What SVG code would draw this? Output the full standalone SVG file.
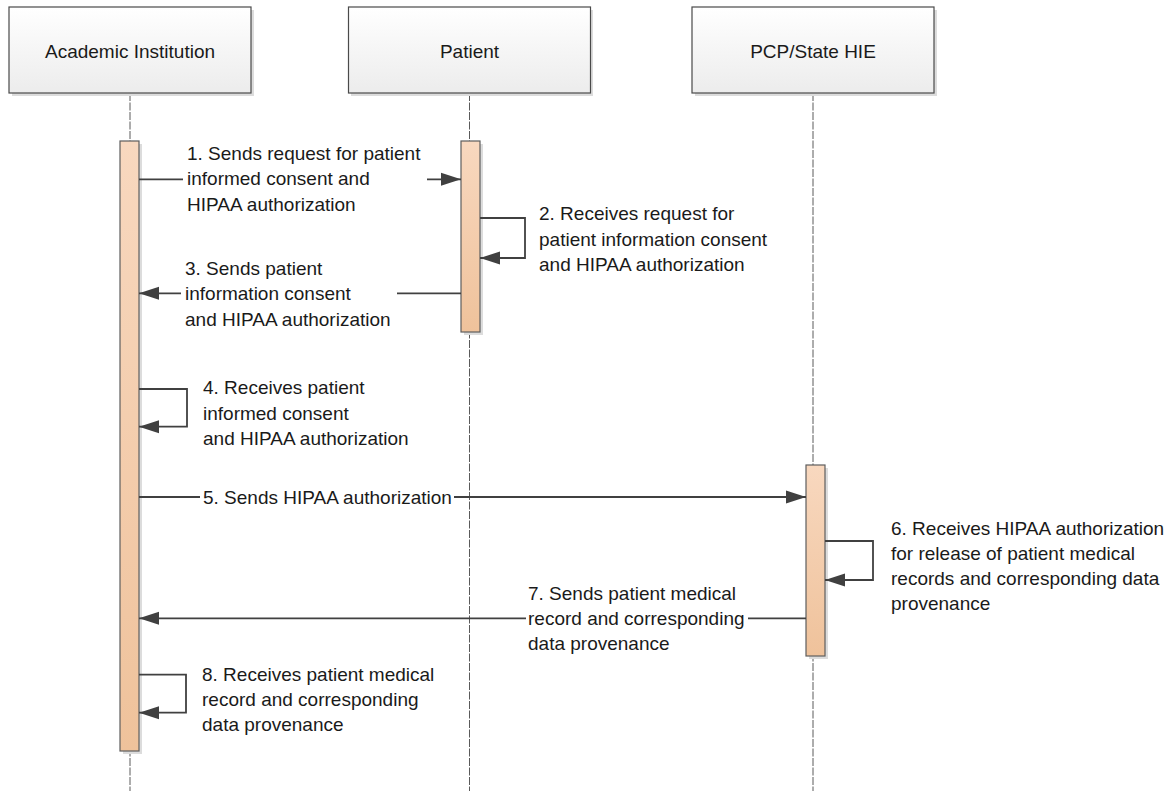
<svg xmlns="http://www.w3.org/2000/svg" width="1172" height="791" viewBox="0 0 1172 791">
<style>
text{font-family:"Liberation Sans",Arial,sans-serif;font-size:19px;fill:#1a1a1a}
.hdr{fill:url(#hdrGrad);stroke:#4a4a4a;stroke-width:1.2}
.shadow{fill:#dcdcdc}
.life{stroke:#5a5a5a;stroke-width:1;stroke-dasharray:8 1.5;fill:none}
.bar{fill:url(#barGrad);stroke:#5e5e5e;stroke-width:1.2}
.msg{stroke:#404040;stroke-width:1.8;fill:none;marker-end:url(#arrow)}
.lblbg{fill:#ffffff}
.c{text-anchor:middle}
</style>
<defs>
<linearGradient id="hdrGrad" x1="0" y1="0" x2="0" y2="1">
<stop offset="0" stop-color="#ffffff"/>
<stop offset="1" stop-color="#ececec"/>
</linearGradient>
<linearGradient id="barGrad" x1="0" y1="0" x2="0" y2="1">
<stop offset="0" stop-color="#f8d8bf"/>
<stop offset="1" stop-color="#efc29b"/>
</linearGradient>
<marker id="arrow" markerUnits="userSpaceOnUse" markerWidth="20" markerHeight="14" refX="20" refY="7" orient="auto">
<path d="M0,0.5 L20,7 L0,13.5 z" fill="#404040"/>
</marker>
</defs>

<g id="lifelines">
<line class="life" x1="130" y1="93" x2="130" y2="791"/>
<line class="life" x1="469.5" y1="93" x2="469.5" y2="791"/>
<line class="life" x1="813" y1="93" x2="813" y2="791"/>
</g>

<g id="academic">
<rect class="shadow" x="12" y="10" width="242" height="86"/>
<rect class="hdr" x="9" y="7" width="242" height="86"/>
<text class="c" x="130" y="57.5">Academic Institution</text>
</g>
<g id="patient">
<rect class="shadow" x="351" y="10" width="242" height="86"/>
<rect class="hdr" x="348.5" y="7" width="242" height="86"/>
<text class="c" x="469.5" y="57.5">Patient</text>
</g>
<g id="pcp">
<rect class="shadow" x="695" y="10" width="242" height="86"/>
<rect class="hdr" x="692" y="7" width="242" height="86"/>
<text class="c" x="813" y="57.5">PCP/State HIE</text>
</g>

<g id="academic-activation">
<rect class="shadow" x="123" y="144" width="19" height="610"/>
<rect class="bar" x="120" y="141" width="19" height="610"/>
</g>
<g id="patient-activation">
<rect class="shadow" x="464" y="144" width="19" height="191"/>
<rect class="bar" x="461" y="141" width="19" height="191"/>
</g>
<g id="pcp-activation">
<rect class="shadow" x="809" y="468" width="19" height="191"/>
<rect class="bar" x="806" y="465" width="19" height="191"/>
</g>

<g id="connectors">
<path class="msg" d="M139,179.3 H461"/>
<path class="msg" d="M480,218 H525 V258 H480"/>
<path class="msg" d="M461,293.3 H139"/>
<path class="msg" d="M139,389 H187 V426.7 H139"/>
<path class="msg" d="M139,497 H806"/>
<path class="msg" d="M825,541 H873 V580 H825"/>
<path class="msg" d="M806,618.3 H139"/>
<path class="msg" d="M139,674.7 H186 V712.7 H139"/>
</g>

<g id="labels">
<rect class="lblbg" x="183" y="143" width="244" height="73"/>
<text><tspan x="187" y="160">1. Sends request for patient</tspan><tspan x="187" y="185.3">informed consent and</tspan><tspan x="187" y="210.7">HIPAA authorization</tspan></text>

<text><tspan x="539" y="220">2. Receives request for</tspan><tspan x="539" y="245.5">patient information consent</tspan><tspan x="539" y="271">and HIPAA authorization</tspan></text>

<rect class="lblbg" x="181" y="258" width="216" height="73"/>
<text><tspan x="185" y="275">3. Sends patient</tspan><tspan x="185" y="300.3">information consent</tspan><tspan x="185" y="325.6">and HIPAA authorization</tspan></text>

<text><tspan x="203" y="394.3">4. Receives patient</tspan><tspan x="203" y="419.5">informed consent</tspan><tspan x="203" y="444.7">and HIPAA authorization</tspan></text>

<rect class="lblbg" x="200" y="485" width="254" height="24"/>
<text x="203" y="503.5">5. Sends HIPAA authorization</text>

<text><tspan x="891" y="534.5">6. Receives HIPAA authorization</tspan><tspan x="891" y="559.5">for release of patient medical</tspan><tspan x="891" y="584.5">records and corresponding data</tspan><tspan x="891" y="609.5">provenance</tspan></text>

<rect class="lblbg" x="526" y="583" width="222" height="73"/>
<text><tspan x="528" y="600">7. Sends patient medical</tspan><tspan x="528" y="625">record and corresponding</tspan><tspan x="528" y="650">data provenance</tspan></text>

<text><tspan x="202" y="681">8. Receives patient medical</tspan><tspan x="202" y="706">record and corresponding</tspan><tspan x="202" y="731">data provenance</tspan></text>
</g>
</svg>
